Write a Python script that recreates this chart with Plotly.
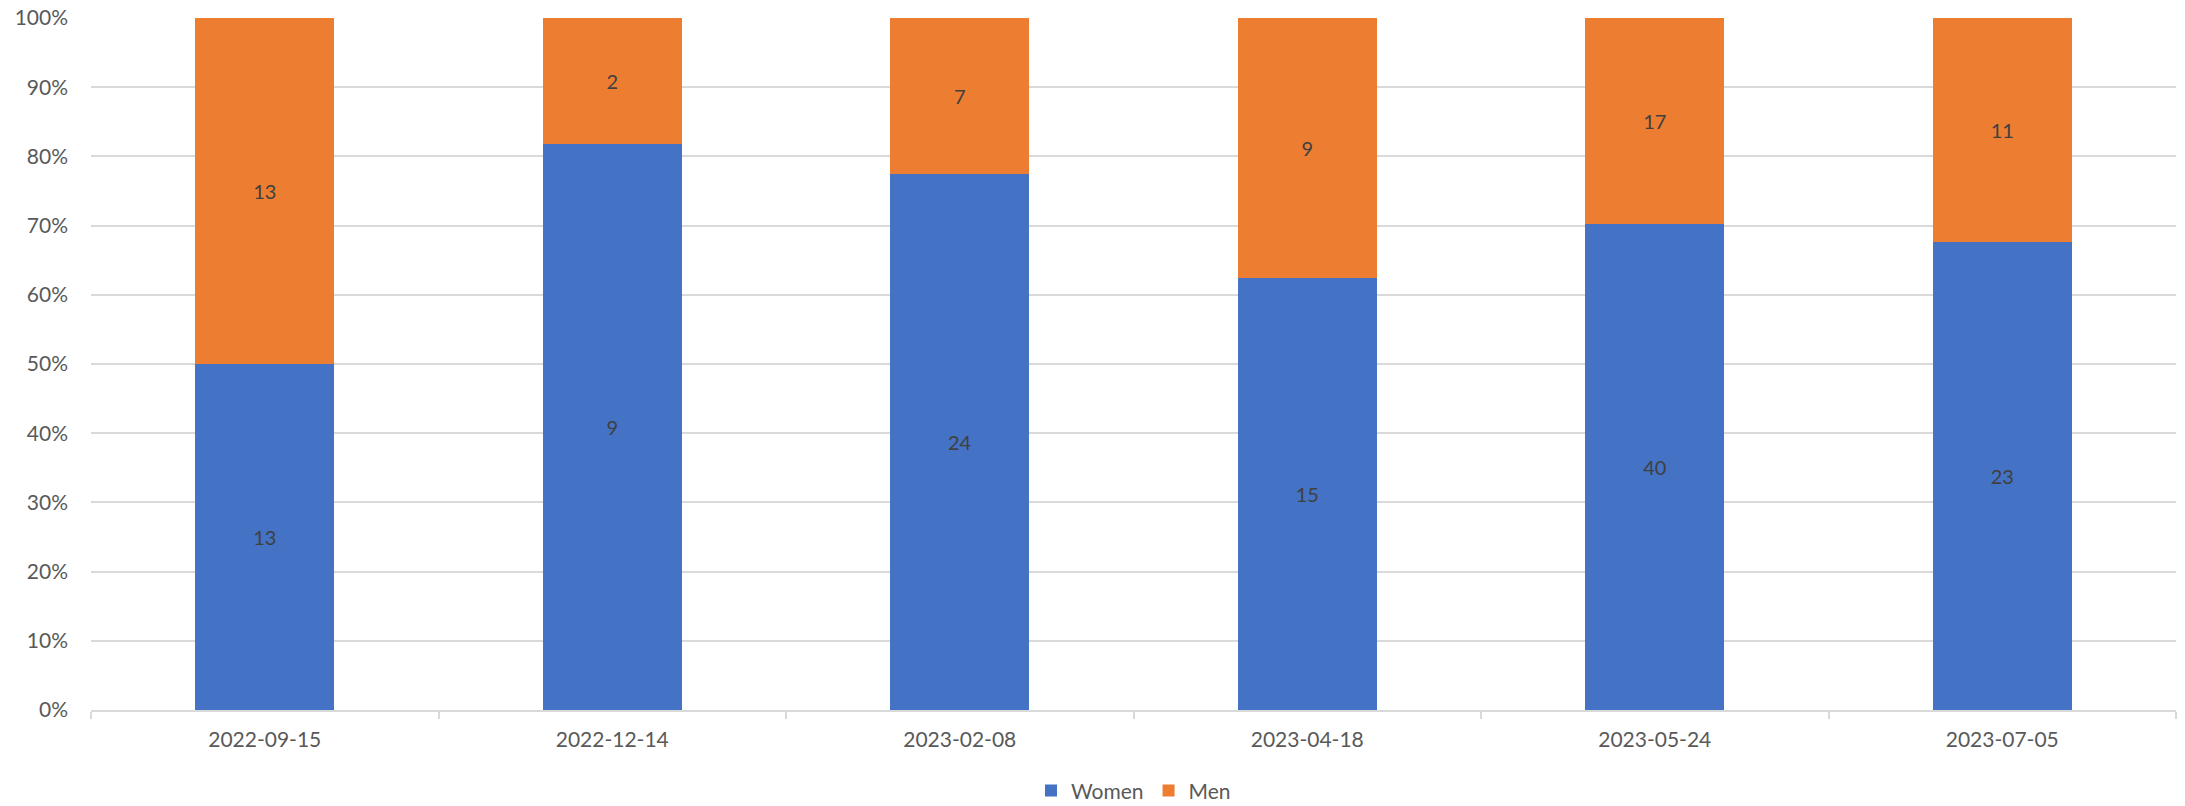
import plotly.graph_objects as go

dates = ["2022-09-15", "2022-12-14", "2023-02-08", "2023-04-18", "2023-05-24", "2023-07-05"]
women = [13, 9, 24, 15, 40, 23]
men = [13, 2, 7, 9, 17, 11]

blue = "#4472C4"
orange = "#ED7D31"
font = "Lato"

fig = go.Figure()
for name, vals, col in [("Women", women, blue), ("Men", men, orange)]:
    fig.add_trace(go.Bar(
        x=dates, y=vals, name=name, marker=dict(color=col, line=dict(width=0)),
        text=vals, texttemplate="%{text}", textposition="inside",
        insidetextanchor="middle", textangle=0,
        textfont=dict(family=font, size=20, color="#404040"),
    ))

# page has an 8px body margin, so the figure is 8px smaller than the window
fig.update_layout(
    barmode="stack", barnorm="percent", bargap=0.6,
    width=2177, height=798,
    margin=dict(l=83, r=9, t=10, b=96, autoexpand=False),
    paper_bgcolor="white", plot_bgcolor="white",
    font=dict(family=font, size=21, color="#595959"),
    legend=dict(orientation="h", x=0.5, xanchor="center", y=-0.117, yanchor="middle",
                font=dict(size=21, color="#595959"), traceorder="normal",
                itemwidth=30, tracegroupgap=0),
    uniformtext=dict(mode=False),
)
fig.update_xaxes(type="category", showgrid=False, showline=True, linecolor="#D9D9D9", linewidth=2,
                 ticks="outside", tickson="boundaries", ticklen=7, tickcolor="#D9D9D9", tickwidth=2,
                 tickfont=dict(size=21, color="#595959"), ticklabelstandoff=10, automargin=False)
fig.update_yaxes(range=[0, 100], dtick=10, ticksuffix="%", showgrid=True, gridcolor="#D9D9D9", gridwidth=2,
                 showline=False, zeroline=False, tickfont=dict(size=21, color="#595959"),
                 ticklabelstandoff=22, automargin=False, ticklabeloverflow="allow")

fig.write_html("out.html")
